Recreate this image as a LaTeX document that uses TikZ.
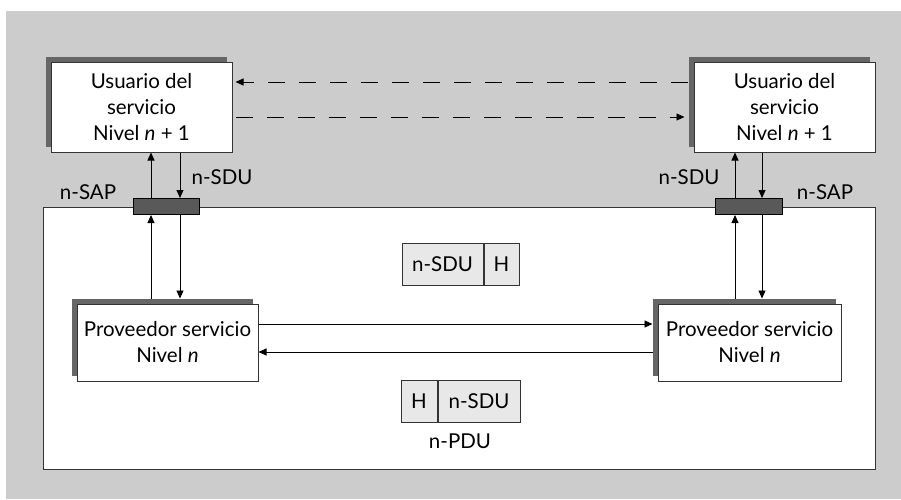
\documentclass[tikz,border=0pt]{standalone}
\usepackage{fontspec}
\setmainfont{Lato}
\usetikzlibrary{arrows.meta,shadows}
\definecolor{bggray}{HTML}{CCCCCC}
\definecolor{shgray}{HTML}{666666}
\definecolor{sapgray}{HTML}{595959}
\definecolor{pktgray}{HTML}{E8E8E8}
\definecolor{linegray}{HTML}{333333}
\begin{document}
\begin{tikzpicture}[x=1pt,y=-1pt,
  every node/.style={font=\fontsize{20.5}{26}\selectfont, inner sep=0pt},
  shbox/.style={draw=linegray, line width=1pt, fill=white, align=center,
     general shadow={fill=shgray, shadow xshift=-5pt, shadow yshift=5pt}},
  sapbox/.style={draw=black, line width=1pt, fill=sapgray, minimum width=66pt, minimum height=16pt},
  pkt/.style={draw=linegray, line width=1pt, fill=pktgray, minimum height=42pt},
  conn/.style={draw=black, line width=0.9pt, -{Triangle[length=8pt,width=7pt]}},
  dconn/.style={conn, dash pattern=on 17pt off 14pt}
]
\useasboundingbox (0,0) rectangle (901,499);
\fill[bggray] (6,11) rectangle (901,499);
\draw[linegray, line width=1pt, fill=white] (43,207) rectangle (875,469);

% user boxes
\node[shbox, minimum width=181pt, minimum height=90pt] (userL) at (141.5,107) {Usuario del\\servicio\\Nivel \textit{n} + 1};
\node[shbox, minimum width=181pt, minimum height=90pt] (userR) at (784.5,107) {Usuario del\\servicio\\Nivel \textit{n} + 1};

% provider boxes
\node[shbox, minimum width=181pt, minimum height=77pt] (provL) at (167.5,342.5) {Proveedor servicio\\Nivel \textit{n}};
\node[shbox, minimum width=183pt, minimum height=77pt] (provR) at (749.5,342.5) {Proveedor servicio\\Nivel \textit{n}};

% SAPs
\node[sapbox] (sapL) at (166,206.5) {};
\node[sapbox, minimum width=67pt] (sapR) at (748.5,206.5) {};

% labels
\node (sapLabL) at (88,192) {n-SAP};
\node (sduLabL) at (222,177) {n-SDU};
\node (sduLabR) at (689,177) {n-SDU};
\node (sapLabR) at (825,192) {n-SAP};

% packets
\node[pkt, minimum width=81pt] (p1a) at (442.5,264) {n-SDU};
\node[pkt, minimum width=35pt, anchor=west] (p1b) at (p1a.east) {H};
\node[pkt, minimum width=36pt] (p2a) at (419,401) {H};
\node[pkt, minimum width=82pt, anchor=west] (p2b) at (p2a.east) {n-SDU};
\node (pdu) at (460,441) {n-PDU};

% vertical arrows left
\draw[conn] (151,0 |- sapL.north) -- (151,0 |- userL.south);
\draw[conn] (180,0 |- userL.south) -- (180,0 |- sapL.north);
\draw[conn] (151,0 |- provL.north) ++(0,-5) -- (151,0 |- sapL.south);
\draw[conn] (180,0 |- sapL.south) -- ([yshift=5pt]180,0 |- provL.north);

% vertical arrows right
\draw[conn] (735,0 |- sapR.north) -- (735,0 |- userR.south);
\draw[conn] (762,0 |- userR.south) -- (762,0 |- sapR.north);
\draw[conn] (735,0 |- provR.north) ++(0,-5) -- (735,0 |- sapR.south);
\draw[conn] (762,0 |- sapR.south) -- ([yshift=5pt]762,0 |- provR.north);

% horizontal arrows
\draw[conn, shorten >=5pt] (provL.east |- 0,324) -- (provR.west |- 0,324);
\draw[conn, shorten <=5pt] (provR.west |- 0,352) -- (provL.east |- 0,352);

% dashed arrows
\draw[dconn, shorten <=6pt] (userR.west |- 0,82) -- ([xshift=3pt]userL.east |- 0,82);
\draw[dconn, shorten >=9pt] ([xshift=3pt]userL.east |- 0,117) -- (userR.west |- 0,117);
\end{tikzpicture}
\end{document}
